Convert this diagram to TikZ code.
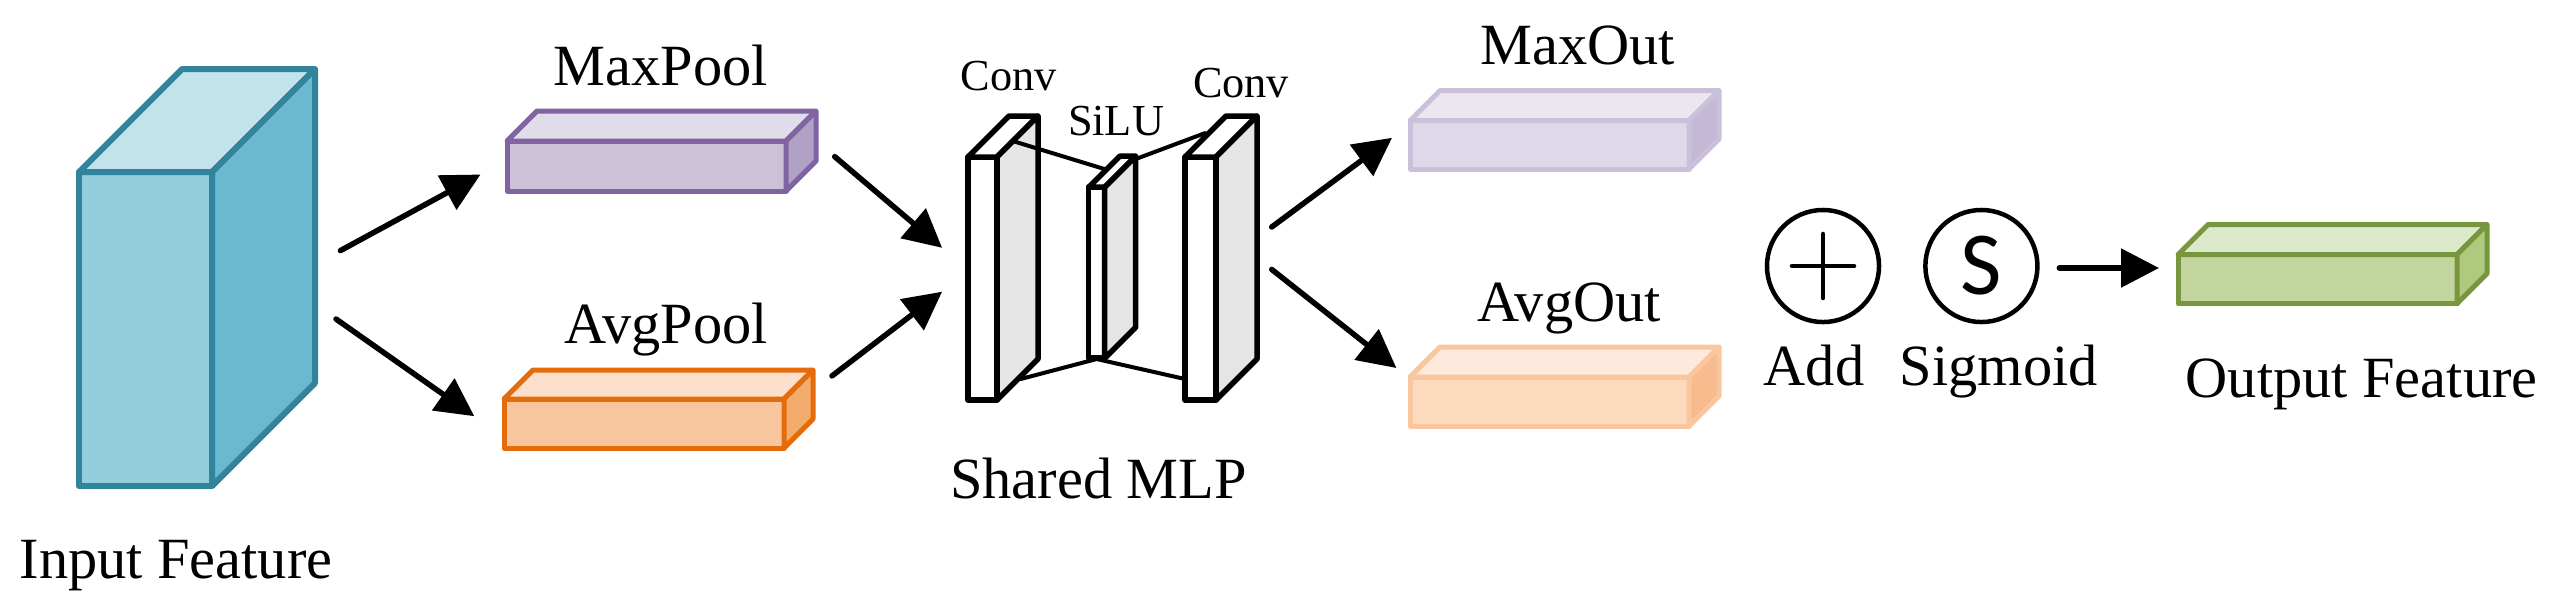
\documentclass[tikz,border=0pt]{standalone}
\usepackage{fontspec}
\setmainfont{Liberation Serif}
\newfontfamily\sfS{Carlito}
\usetikzlibrary{arrows.meta}
% colours: S stroke, F front, T top, D side
\definecolor{inS}{HTML}{31849B}\definecolor{inF}{HTML}{94CDDB}\definecolor{inT}{HTML}{C2E3EB}\definecolor{inD}{HTML}{6AB9CE}
\definecolor{mpS}{HTML}{8064A2}\definecolor{mpF}{HTML}{CCC1D9}\definecolor{mpT}{HTML}{E0DCEA}\definecolor{mpD}{HTML}{B2A1C7}
\definecolor{apS}{HTML}{E46C0A}\definecolor{apF}{HTML}{F8C59F}\definecolor{apT}{HTML}{FDE0CB}\definecolor{apD}{HTML}{F4AB6E}
\definecolor{moS}{HTML}{CBC0DA}\definecolor{moF}{HTML}{DED8E8}\definecolor{moT}{HTML}{EAE6EF}\definecolor{moD}{HTML}{C5B8D6}
\definecolor{aoS}{HTML}{F9C69E}\definecolor{aoF}{HTML}{FBDABE}\definecolor{aoT}{HTML}{FEEADD}\definecolor{aoD}{HTML}{F8BB8E}
\definecolor{ouS}{HTML}{78963E}\definecolor{ouF}{HTML}{C3D59E}\definecolor{ouT}{HTML}{DDE9CB}\definecolor{ouD}{HTML}{AFC97F}
\definecolor{cvS}{HTML}{000000}\definecolor{cvF}{HTML}{FFFFFF}\definecolor{cvT}{HTML}{FFFFFF}\definecolor{cvD}{HTML}{E5E5E5}
\def\boxlw{0.05cm}
% #1 name, #2 cx, #3 cy, #4 w, #5 h, #6 depth, #7 colour prefix
\newcommand\cubo[7]{%
  \node[draw=#7S, fill=#7F, line width=\boxlw, minimum width=#4*0.01cm,
        minimum height=#5*0.01cm, inner sep=0pt, outer sep=0pt, line join=round] (#1) at (#2,#3) {};
  \filldraw[draw=#7S, fill=#7T, line width=\boxlw, line join=round]
    (#1.north west) -- ++(#6,-#6) -- ++(#4,0) -- (#1.north east) -- cycle;
  \filldraw[draw=#7S, fill=#7D, line width=\boxlw, line join=round]
    (#1.north east) -- ++(#6,-#6) -- ++(0,#5) -- (#1.south east) -- cycle;
}
\tikzset{
  lbl/.style={anchor=base, inner sep=0pt, font=\fontsize{16.6}{19}\selectfont},
  slbl/.style={anchor=base, inner sep=0pt, font=\fontsize{12.6}{15}\selectfont},
  arr/.style={line width=0.055cm, line cap=round, -{Triangle[length=0.38cm, width=0.38cm]}},
  mlpline/.style={line width=0.04cm, line cap=round},
  opcirc/.style={circle, draw, line width=0.045cm, minimum size=1.12cm, inner sep=0pt, outer sep=0pt}
}
\begin{document}
\begin{tikzpicture}[x=0.01cm, y=-0.01cm]
\useasboundingbox (0,0) rectangle (2554,614);
% cuboids
\def\boxlw{0.06cm}
\cubo{inp}{145.5}{329}{133}{314}{103}{in}
\def\boxlw{0.05cm}
\cubo{mp}{646.5}{166}{279}{50}{30}{mp}
\cubo{ap}{644}{423.5}{280}{49}{29}{ap}
\def\boxlw{0.055cm}
\cubo{cva}{982.5}{278.5}{29}{243}{41}{cv}
\cubo{sl}{1096.7}{272.7}{16}{171}{31}{cv}
\cubo{cvb}{1200.5}{278.5}{31}{243}{41}{cv}
\def\boxlw{0.05cm}
\cubo{mo}{1549.5}{144.8}{279}{48.5}{30}{mo}
\cubo{ao}{1549.5}{401.5}{279}{49}{30}{ao}
\cubo{ou}{2317.5}{279}{279}{49}{30}{ou}
% MLP connecting lines
\coordinate (t1) at (1015,141.7);
\coordinate (t2) at (1104.7,169.1);
\coordinate (t3) at (1131.8,160.5);
\coordinate (t4) at (1205,133.1);
\coordinate (b1) at (1020.7,379);
\coordinate (b2) at (1096.6,359);
\coordinate (b3) at (1185,379);
\draw[mlpline] (t1) -- (t2);
\draw[mlpline] (t3) -- (t4);
\draw[mlpline] (b1) -- (b2) -- (b3);
% operators
\node[opcirc] (add) at (1823,266) {};
\draw[line width=0.045cm, line cap=round] ([xshift=-0.31cm]add.center) -- ([xshift=0.31cm]add.center);
\draw[line width=0.045cm, line cap=round] ([yshift=-0.32cm]add.center) -- ([yshift=0.32cm]add.center);
\node[opcirc] (sig) at (1981.4,266) {};
\node[inner sep=0pt, font=\sfS\fontsize{25.6}{28}\selectfont] (sigS) at (sig.center) {S};
% arrow end points
\coordinate (a1s) at (340.4,250.6); \coordinate (a1e) at (480.5,174.5);
\coordinate (a2s) at (336,319);     \coordinate (a2e) at (474.3,416.2);
\coordinate (a3s) at (834.7,156.6); \coordinate (a3e) at (942.1,247.8);
\coordinate (a4s) at (832,375.9);   \coordinate (a4e) at (942.1,291.7);
\coordinate (a5s) at (1271.7,227);  \coordinate (a5e) at (1392,137.8);
\coordinate (a6s) at (1271.7,269.4);\coordinate (a6e) at (1396.4,368);
\coordinate (a7s) at (2059.3,268);  \coordinate (a7e) at (2159,268);
\draw[arr] (a1s) -- (a1e);
\draw[arr] (a2s) -- (a2e);
\draw[arr] (a3s) -- (a3e);
\draw[arr] (a4s) -- (a4e);
\draw[arr] (a5s) -- (a5e);
\draw[arr] (a6s) -- (a6e);
\draw[arr] (a7s) -- (a7e);
% labels
\node[lbl] (tin) at (176,578.7) {Input Feature};
\node[lbl] (tmp) at (661,85.4) {MaxPool};
\node[lbl] (tap) at (666,343.8) {AvgPool};
\node[slbl] (tc1) at (1008.6,90.8) {Conv};
\node[slbl] (tsl) at (1116,135.1) {SiLU};
\node[slbl] (tc2) at (1241,97.9) {Conv};
\node[lbl] (tmlp) at (1098.5,498) {Shared MLP};
\node[lbl] (tmo) at (1577.6,64.6) {MaxOut};
\node[lbl] (tao) at (1569,321) {AvgOut};
\node[lbl] (tadd) at (1814,385.7) {Add};
\node[lbl] (tsig) at (1998.7,385.7) {Sigmoid};
\node[lbl] (tout) at (2361.6,397.4) {Output Feature};
\end{tikzpicture}
\end{document}
